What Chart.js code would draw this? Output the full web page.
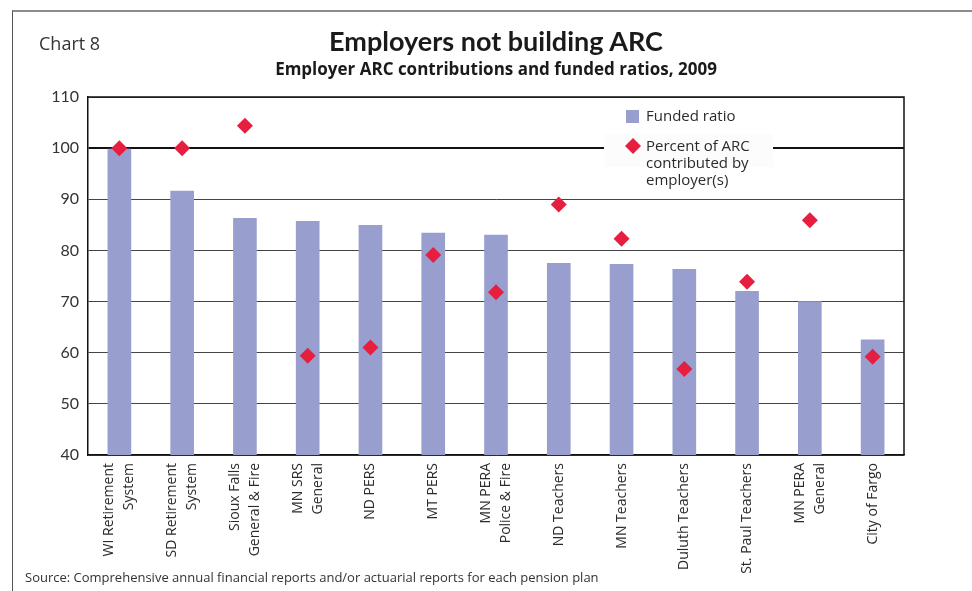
<!DOCTYPE html>
<html>
<head>
<meta charset="utf-8">
<script src="https://cdn.jsdelivr.net/npm/chart.js@4.4.1/dist/chart.umd.min.js"></script>
<style>
  body { margin: 0; background: #fff; }
  #wrap { position: relative; width: 972px; height: 591px; overflow: hidden; font-family: "Open Sans", Lato, sans-serif; color: #222; }
  #frame { position: absolute; left: 12px; top: 10px; width: 980px; height: 600px; border-top: 2px solid #8c8c8c; border-left: 1px solid #555; }
  #c { position: absolute; left: 0; top: 0; }
  .t { position: absolute; white-space: nowrap; }
  #lbl { left: 39px; top: 31px; font-size: 18px; color: #333; }
  #title { left: 0; width: 992px; text-align: center; top: 24px; font-family: Lato, sans-serif; font-size: 27px; font-weight: bold; color: #1a1a1a; }
  #sub { left: 0; width: 992px; text-align: center; top: 57px; font-size: 17px; font-weight: bold; color: #1a1a1a; }
  #src { left: 25px; top: 568px; font-size: 13px; color: #333; }
</style>
</head>
<body>
<div id="wrap">
  <div id="frame"></div>
  <canvas id="c" width="972" height="591"></canvas>
  <div class="t" id="lbl">Chart 8</div>
  <div class="t" id="title">Employers not building ARC</div>
  <div class="t" id="sub">Employer ARC contributions and funded ratios, 2009</div>
  <div class="t" id="src">Source: Comprehensive annual financial reports and/or actuarial reports for each pension plan</div>
</div>
<script>
// ---- data ----
const categories = [
  ["WI Retirement", "System"],
  ["SD Retirement", "System"],
  ["Sioux Falls", "General & Fire"],
  ["MN SRS", "General"],
  "ND PERS",
  "MT PERS",
  ["MN PERA", "Police & Fire"],
  "ND Teachers",
  "MN Teachers",
  "Duluth Teachers",
  "St. Paul Teachers",
  ["MN PERA", "General"],
  "City of Fargo"
];
const fundedRatio = [99.8, 91.6, 86.3, 85.7, 84.9, 83.4, 83.0, 77.5, 77.3, 76.3, 72.0, 70.0, 62.5];
const arcPercent  = [100, 100, 104.4, 59.4, 61.0, 79.1, 71.8, 89.0, 82.3, 56.8, 73.9, 85.9, 59.2];
const yTickMin = 40, yTickMax = 110, yTickStep = 10;
const legendLabels = ["Funded ratio", ["Percent of ARC", "contributed by", "employer(s)"]];

const BAR_COLOR = '#989fcf';
const DIAMOND_COLOR = '#e61e40';
const FONT = '"Open Sans", Lato, sans-serif';

const xLabelPlugin = {
  id: 'xLabels',
  afterDraw(chart) {
    const { ctx, scales: { x } } = chart;
    ctx.save();
    ctx.font = '14px ' + FONT;
    ctx.fillStyle = '#2b2b2b';
    ctx.textAlign = 'right';
    ctx.textBaseline = 'middle';
    const lh = 20;
    categories.forEach((lab, i) => {
      const lines = Array.isArray(lab) ? lab : [lab];
      const px = x.getPixelForValue(i);
      lines.forEach((ln, j) => {
        const off = (j - (lines.length - 1) / 2) * lh;
        ctx.save();
        ctx.translate(px + off, x.top + 8);
        ctx.rotate(-Math.PI / 2);
        ctx.fillText(ln, 0, 0);
        ctx.restore();
      });
    });
    ctx.restore();
  }
};

const framePlugin = {
  id: 'frameRight',
  afterDatasetsDraw(chart) {
    const { ctx, chartArea: a } = chart;
    ctx.save();
    ctx.strokeStyle = '#111';
    ctx.lineWidth = 1.5;
    ctx.beginPath();
    ctx.moveTo(a.left, a.top);
    ctx.lineTo(a.right, a.top);
    ctx.lineTo(a.right, a.bottom);
    ctx.stroke();
    ctx.restore();
  }
};

const legendPlugin = {
  id: 'customLegend',
  afterDraw(chart) {
    const { ctx } = chart;
    ctx.save();
    ctx.fillStyle = '#fcfcfc';
    ctx.fillRect(604, 134, 169, 33);
    // bar marker
    ctx.fillStyle = BAR_COLOR;
    ctx.fillRect(626, 110, 13, 13);
    ctx.font = '15px ' + FONT;
    ctx.fillStyle = '#2b2b2b';
    ctx.textAlign = 'left';
    ctx.textBaseline = 'middle';
    ctx.fillText(legendLabels[0], 646, 117);
    // diamond marker
    ctx.fillStyle = DIAMOND_COLOR;
    const cx = 633, cy = 146, r = 8;
    ctx.beginPath();
    ctx.moveTo(cx, cy - r); ctx.lineTo(cx + r, cy); ctx.lineTo(cx, cy + r); ctx.lineTo(cx - r, cy);
    ctx.closePath(); ctx.fill();
    ctx.fillStyle = '#2b2b2b';
    legendLabels[1].forEach((ln, j) => ctx.fillText(ln, 646, 147 + j * 17));
    ctx.restore();
  }
};

new Chart(document.getElementById('c'), {
  data: {
    labels: categories,
    datasets: [
      {
        type: 'line',
        label: 'Percent of ARC contributed by employer(s)',
        data: arcPercent,
        showLine: false,
        pointStyle: 'rectRot',
        pointRadius: 8,
        pointHoverRadius: 8,
        pointBackgroundColor: DIAMOND_COLOR,
        pointBorderWidth: 0,
        pointBorderColor: DIAMOND_COLOR,
        order: 1
      },
      {
        type: 'bar',
        label: 'Funded ratio',
        data: fundedRatio,
        backgroundColor: BAR_COLOR,
        barThickness: 23,
        order: 2
      }
    ]
  },
  options: {
    responsive: false,
    animation: false,
    layout: { padding: { top: 97, right: 68, bottom: 0, left: 0 } },
    plugins: { legend: { display: false }, tooltip: { enabled: false }, title: { display: false } },
    scales: {
      x: {
        type: 'category',
        offset: true,
        ticks: { display: false },
        grid: { display: false, drawTicks: false },
        border: { color: '#111', width: 1.5 },
        afterFit(s) { s.height = 136; }
      },
      y: {
        min: yTickMin,
        max: yTickMax,
        ticks: { stepSize: yTickStep, color: '#333', font: { family: 'Lato, sans-serif', size: 16 }, padding: 9 },
        grid: {
          drawTicks: false,
          color: c => (c.tick && c.tick.value === 100) ? '#111' : '#444',
          lineWidth: c => (c.tick && c.tick.value === 100) ? 2 : 1
        },
        border: { color: '#111', width: 1.5 },
        afterFit(s) { s.width = 88; }
      }
    }
  },
  plugins: [framePlugin, legendPlugin, xLabelPlugin]
});
</script>
</body>
</html>
